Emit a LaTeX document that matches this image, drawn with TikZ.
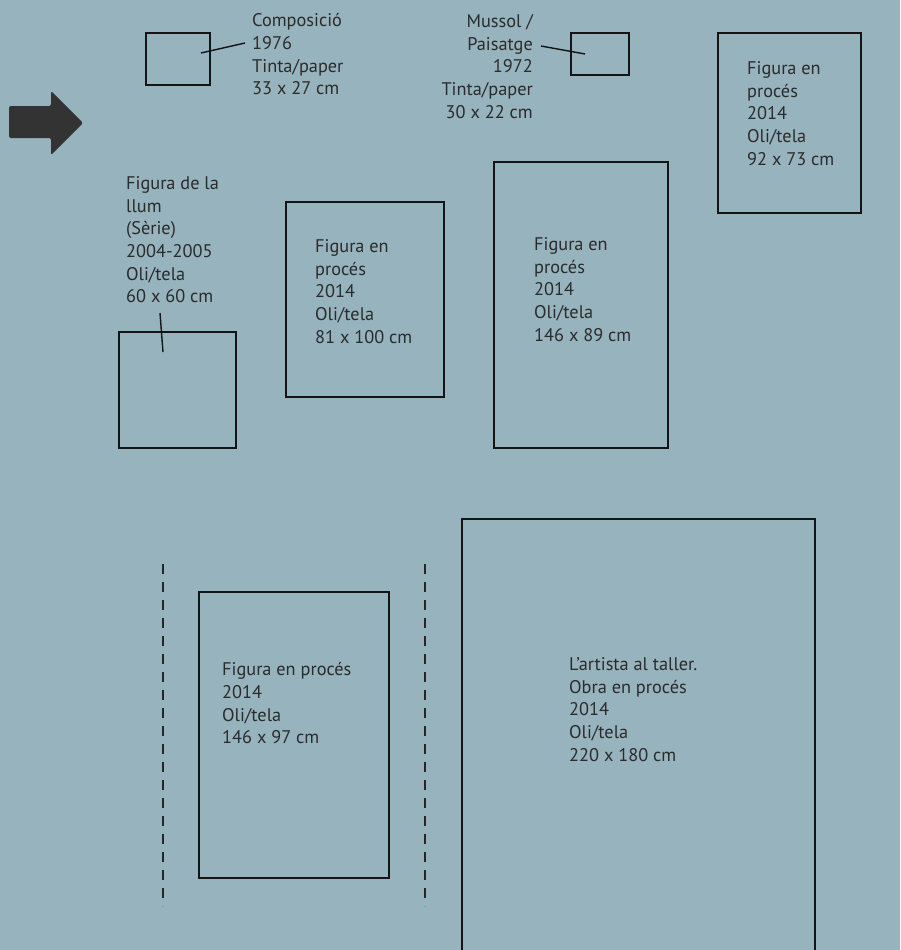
\documentclass[tikz,border=0pt]{standalone}
\usepackage{fontspec}
\setmainfont{PT Sans}
\definecolor{bg}{HTML}{96B3BE}
\definecolor{ink}{HTML}{2B2B2B}
\definecolor{arrowc}{HTML}{333333}
\begin{document}
\begin{tikzpicture}[x=1pt,y=-1pt,
  frame/.style={draw=black!92, line width=1.9pt, inner sep=0pt, fill=none},
  label/.style={text=ink, inner sep=0pt, align=left, anchor=north west, font=\fontsize{18.3}{22.6}\selectfont},
  leader/.style={draw=black!92, line width=1.4pt},
  guide/.style={draw=black!85, line width=1.2pt, dash pattern=on 10pt off 8pt}]
\fill[bg] (0,0) rectangle (900,950);
\useasboundingbox (0,0) rectangle (900,950);
% arrow
\fill[arrowc, rounded corners=2pt] (9,106) -- (51,106) -- (51,91) -- (83,123) -- (51,155) -- (51,138) -- (9,138) -- cycle;
% frames
\node[frame, minimum width=64pt, minimum height=52pt] (A) at (178,59) {};
\node[frame, minimum width=58pt, minimum height=42pt] (B) at (600,54) {};
\node[frame, minimum width=143pt, minimum height=180pt] (C) at (789.5,123) {};
\node[frame, minimum width=117pt, minimum height=116pt] (D) at (177.5,390) {};
\node[frame, minimum width=158pt, minimum height=195pt] (E) at (365,299.5) {};
\node[frame, minimum width=174pt, minimum height=286pt] (F) at (581,305) {};
\node[frame, minimum width=190pt, minimum height=286pt] (G) at (294,735) {};
\node[frame, minimum width=353pt, minimum height=460pt] (H) at (638.5,749) {};
% labels
\node[label] (tA) at (252,13.5) {Composició\\1976\\Tinta/paper\\33 x 27 cm};
\node[label, anchor=north east, align=right] (tB) at (533,14.5) {Mussol /\\Paisatge\\1972\\Tinta/paper\\30 x 22 cm};
\node[label] (tC) at (747,61.5) {Figura en\\procés\\2014\\Oli/tela\\92 x 73 cm};
\node[label] (tD) at (126,176.5) {Figura de la\\llum\\(Sèrie)\\2004-2005\\Oli/tela\\60 x 60 cm};
\node[label] (tE) at (315,239.5) {Figura en\\procés\\2014\\Oli/tela\\81 x 100 cm};
\node[label] (tF) at (534,237.5) {Figura en\\procés\\2014\\Oli/tela\\146 x 89 cm};
\node[label] (tG) at (222,662.5) {Figura en procés\\2014\\Oli/tela\\146 x 97 cm};
\node[label] (tH) at (569,657.5) {L’artista al taller.\\Obra en procés\\2014\\Oli/tela\\220 x 180 cm};
% leaders
\coordinate (a1) at (201,53); \coordinate (a2) at (245,43);
\coordinate (b1) at (541,46); \coordinate (b2) at (585,54);
\coordinate (d1) at (160,313); \coordinate (d2) at (163,352);
\draw[leader] (a1) -- (a2);
\draw[leader] (b1) -- (b2);
\draw[leader] (d1) -- (d2);
% dashed guides
\coordinate (g1t) at (163,564); \coordinate (g1b) at (163,906);
\coordinate (g2t) at (425,564); \coordinate (g2b) at (425,906);
\draw[guide] (g1t) -- (g1b);
\draw[guide] (g2t) -- (g2b);
\end{tikzpicture}
\end{document}
